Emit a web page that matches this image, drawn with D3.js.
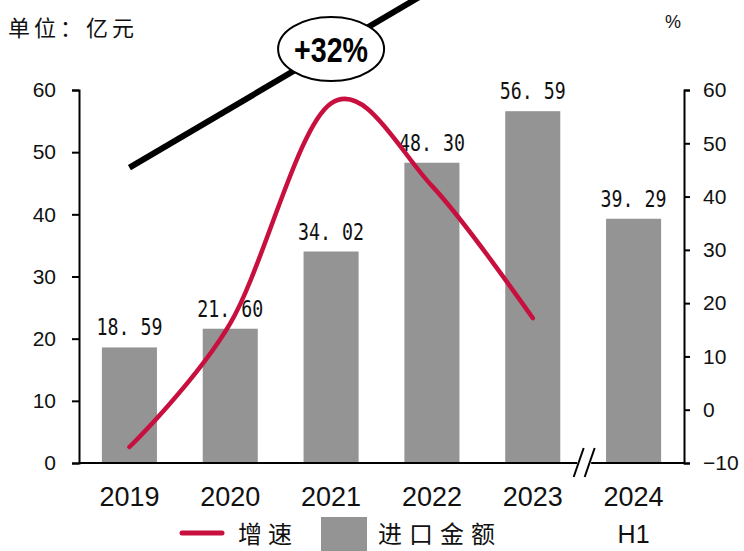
<!DOCTYPE html>
<html><head><meta charset="utf-8">
<script src="https://cdn.jsdelivr.net/npm/d3@7"></script>
<style>
html,body{margin:0;padding:0;background:#fff;}
svg{display:block;}
</style></head>
<body>
<svg id="c" width="744" height="551"></svg>
<script>
// ---- data ----
const categories = ["2019","2020","2021","2022","2023","2024"];
const subLabels = ["","","","","","H1"];
const importValues = [18.59, 21.60, 34.02, 48.30, 56.59, 39.29];
const growthCategories = ["2019","2020","2021","2022","2023"];
const growthValues = [-7.0, 16.2, 57.5, 42.0, 17.2];
const leftTicks = [0,10,20,30,40,50,60];
const rightTicks = [-10,0,10,20,30,40,50,60];
const unitLabel = "单位：亿元";
const pctLabel = "%";
const cagrLabel = "+32%";
const legendLine = "增速";
const legendBar = "进口金额";

(function(){
const svg = d3.select("#c");
const pL = 79, pR = 684, pT = 90, pB = 463;

const x = d3.scaleBand().domain(categories).range([pL,pR]).paddingInner(0.454).paddingOuter(0.227);
const yL = d3.scaleLinear().domain([0,60]).range([pB,pT]);
const yR = d3.scaleLinear().domain([-10,60]).range([pB,pT]);
const cx = d => x(d) + x.bandwidth()/2;
const xi = d3.scaleLinear().domain([0,1]).range([cx(categories[0]), cx(categories[1])]);

const barColor = "#949494";
const lineColor = "#C8103F";

// bars
svg.append("g").selectAll("rect").data(importValues).join("rect")
  .attr("x",(d,i)=>x(categories[i])).attr("y",d=>yL(d))
  .attr("width",x.bandwidth()).attr("height",d=>yL(0)-yL(d))
  .attr("fill",barColor);

// bar labels
svg.append("g").selectAll("text").data(importValues).join("text")
  .attr("x",(d,i)=>cx(categories[i])).attr("y",d=>yL(d)-12)
  .attr("text-anchor","middle")
  .attr("font-family","'DejaVu Sans Mono', 'Liberation Mono', monospace")
  .attr("font-size",23.5).attr("fill","#111")
  .text(d=>{const s=d.toFixed(2).split(".");return s[0]+". "+s[1];})
  .attr("textLength",66).attr("lengthAdjust","spacingAndGlyphs");

// growth line
const line = d3.line().x((d,i)=>cx(growthCategories[i])).y(d=>yR(d)).curve(d3.curveCatmullRom.alpha(0));
svg.append("path").datum(growthValues).attr("d",line)
  .attr("fill","none").attr("stroke",lineColor).attr("stroke-width",4.5).attr("stroke-linecap","round");

// left axis
const gl = svg.append("g").attr("transform",`translate(${pL},0)`)
  .call(d3.axisLeft(yL).tickValues(leftTicks).tickSize(7).tickSizeOuter(7).tickPadding(16));
gl.selectAll("path,line").attr("stroke","#000").attr("stroke-width",2);
gl.selectAll("text").attr("font-family","'Liberation Sans', Arial, sans-serif").attr("font-size",21).attr("fill","#111");

// right axis
const gr = svg.append("g").attr("transform",`translate(${pR},0)`)
  .call(d3.axisRight(yR).tickValues(rightTicks).tickSize(6).tickSizeOuter(6).tickPadding(13));
gr.selectAll("path,line").attr("stroke","#000").attr("stroke-width",2);
gr.selectAll("text").attr("font-family","'Liberation Sans', Arial, sans-serif").attr("font-size",21).attr("fill","#111");

// bottom axis with break
const breakX = (cx("2023")+cx("2024"))/2 + 1;
const gapHalf = 7;
svg.append("line").attr("x1",pL).attr("x2",breakX-gapHalf).attr("y1",pB).attr("y2",pB).attr("stroke","#000").attr("stroke-width",2);
svg.append("line").attr("x1",breakX+gapHalf).attr("x2",pR).attr("y1",pB).attr("y2",pB).attr("stroke","#000").attr("stroke-width",2);
[-5.5,5.5].forEach(o=>{
  svg.append("line").attr("x1",breakX+o-5).attr("y1",pB+14).attr("x2",breakX+o+5).attr("y2",pB-15)
    .attr("stroke","#000").attr("stroke-width",2);
});

// x labels
svg.append("g").selectAll("text").data(categories).join("text")
  .attr("x",d=>cx(d)).attr("y",506).attr("text-anchor","middle")
  .attr("font-family","'Liberation Sans', Arial, sans-serif").attr("font-size",27).attr("fill","#111")
  .text(d=>d);
svg.append("g").selectAll("text").data(subLabels).join("text")
  .attr("x",(d,i)=>cx(categories[i])).attr("y",543).attr("text-anchor","middle")
  .attr("font-family","'Liberation Sans', Arial, sans-serif").attr("font-size",25).attr("fill","#111")
  .text(d=>d);

// unit labels
svg.append("text").attr("x",8).attr("y",36).attr("font-family","'Noto Sans CJK SC', sans-serif")
  .attr("font-size",22).attr("letter-spacing",4).attr("fill","#111").text(unitLabel);
svg.append("text").attr("x",665).attr("y",28).attr("font-family","'Liberation Sans', Arial, sans-serif")
  .attr("font-size",18).attr("fill","#111").text(pctLabel);

// CAGR annotation (in data coordinates: category index / left-axis value)
const aStart = [0, 47.5], aMid = [2, 66.6], aEnd = [2.9, 75.2];
svg.append("line").attr("x1",xi(aStart[0])).attr("y1",yL(aStart[1])).attr("x2",xi(aEnd[0])).attr("y2",yL(aEnd[1]))
  .attr("stroke","#000").attr("stroke-width",6);
svg.append("ellipse").attr("cx",xi(aMid[0])).attr("cy",yL(aMid[1])).attr("rx",53).attr("ry",32)
  .attr("fill","#fff").attr("stroke","#000").attr("stroke-width",2);
svg.append("text").attr("x",xi(aMid[0])).attr("y",yL(aMid[1])+13).attr("text-anchor","middle")
  .attr("font-family","'Liberation Sans', Arial, sans-serif").attr("font-weight","bold").attr("font-size",35)
  .attr("textLength",74).attr("lengthAdjust","spacingAndGlyphs").attr("fill","#000").text(cagrLabel);

// legend
svg.append("line").attr("x1",182).attr("x2",222).attr("y1",533).attr("y2",533)
  .attr("stroke",lineColor).attr("stroke-width",5).attr("stroke-linecap","round");
svg.append("text").attr("x",238).attr("y",543).attr("font-family","'Noto Sans CJK SC', sans-serif")
  .attr("font-size",24).attr("letter-spacing",6).attr("fill","#111").text(legendLine);
svg.append("rect").attr("x",321).attr("y",517).attr("width",46).attr("height",40).attr("fill",barColor);
svg.append("text").attr("x",378).attr("y",543).attr("font-family","'Noto Sans CJK SC', sans-serif")
  .attr("font-size",24).attr("letter-spacing",7).attr("fill","#111").text(legendBar);
})();
</script>
</body></html>
